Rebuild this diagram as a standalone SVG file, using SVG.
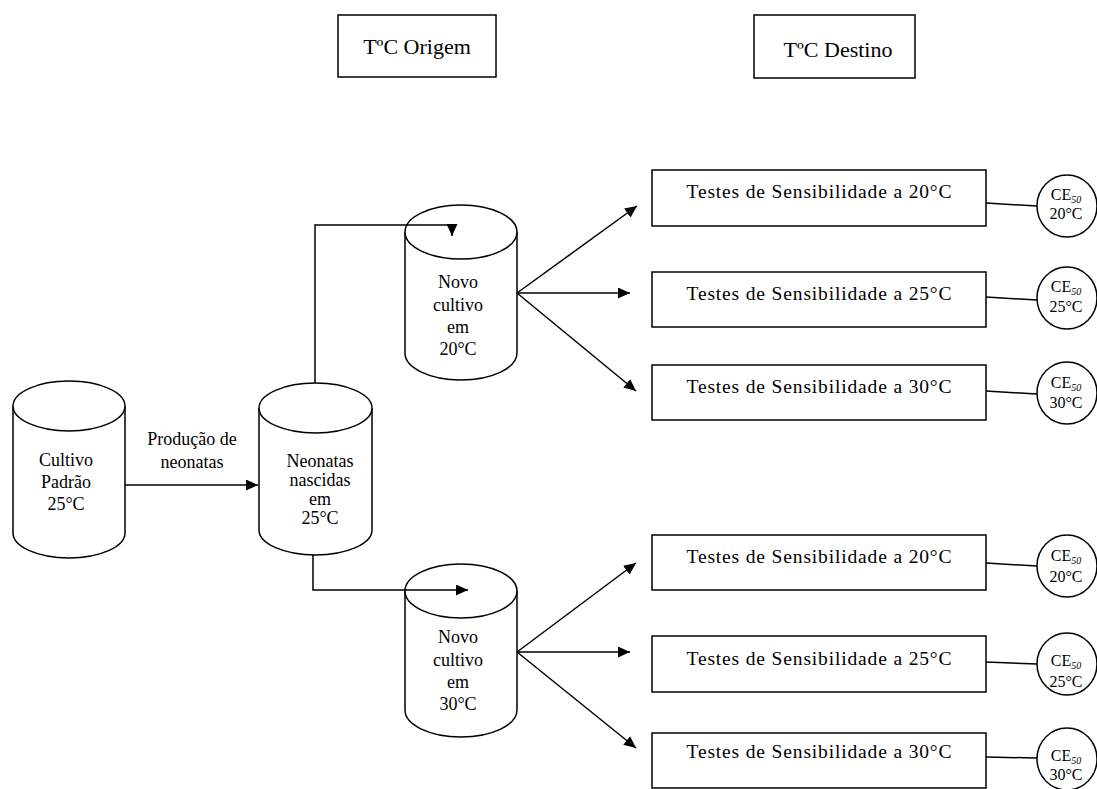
<svg xmlns="http://www.w3.org/2000/svg" width="1097" height="789" viewBox="0 0 1097 789">
<style>
  .shape { fill: #fff; stroke: #000; stroke-width: 1.5; }
  .line { fill: none; stroke: #000; stroke-width: 1.5; }
  .t { font-family: "Liberation Serif", "Times New Roman", serif; fill: #000; text-anchor: middle; }
  .lbl { font-size: 18px; }
  .hdr { font-size: 22px; }
  .test { font-size: 19.5px; }
  .ce { font-size: 16px; }
  .sub { font-size: 10px; font-style: italic; }
</style>
<defs>
  <marker id="arrow" viewBox="0 0 12 11" refX="12" refY="5.5" markerWidth="12" markerHeight="11" markerUnits="userSpaceOnUse" orient="auto">
    <path d="M0,0 L12,5.5 L0,11 Z" fill="#000"/>
  </marker>
</defs>
<rect width="1097" height="789" fill="#fff"/>

<!-- column headers -->
<g id="hdr-origem">
  <rect class="shape" x="338" y="15" width="158" height="62"/>
  <text class="t hdr" x="417" y="54">TºC Origem</text>
</g>
<g id="hdr-destino">
  <rect class="shape" x="754" y="15" width="161" height="63"/>
  <text class="t hdr" x="838" y="57">TºC Destino</text>
</g>

<!-- cylinders -->
<g id="cultivo-padrao">
  <path class="shape" d="M13,406 L13,533 A56,25 0 0 0 125,533 L125,406"/>
  <ellipse class="shape" cx="69" cy="406" rx="56" ry="25"/>
  <text class="t lbl" x="66" y="466">Cultivo</text>
  <text class="t lbl" x="66" y="488">Padrão</text>
  <text class="t lbl" x="66" y="510">25°C</text>
</g>
<g id="neonatas">
  <path class="shape" d="M259,408 L259,530 A56.5,25 0 0 0 372,530 L372,408"/>
  <ellipse class="shape" cx="315.5" cy="408" rx="56.5" ry="25"/>
  <text class="t lbl" x="320" y="467">Neonatas</text>
  <text class="t lbl" x="320" y="486">nascidas</text>
  <text class="t lbl" x="320" y="505">em</text>
  <text class="t lbl" x="320" y="524">25°C</text>
</g>
<g id="novo-20">
  <path class="shape" d="M405,232 L405,353 A56,27 0 0 0 517,353 L517,232"/>
  <ellipse class="shape" cx="461" cy="232" rx="56" ry="27"/>
  <text class="t lbl" x="458" y="288">Novo</text>
  <text class="t lbl" x="458" y="311">cultivo</text>
  <text class="t lbl" x="458" y="333">em</text>
  <text class="t lbl" x="458" y="355">20°C</text>
</g>
<g id="novo-30">
  <path class="shape" d="M405,591 L405,710 A56,27 0 0 0 517,710 L517,591"/>
  <ellipse class="shape" cx="461" cy="591" rx="56" ry="27"/>
  <text class="t lbl" x="458" y="643">Novo</text>
  <text class="t lbl" x="458" y="666">cultivo</text>
  <text class="t lbl" x="458" y="688">em</text>
  <text class="t lbl" x="458" y="710">30°C</text>
</g>

<!-- sensitivity tests -->
<g id="teste-20-a">
  <rect class="shape" x="652" y="170" width="334" height="56"/>
  <text class="t test" x="819" y="198" textLength="265">Testes de Sensibilidade a 20°C</text>
</g>
<g id="teste-25-a">
  <rect class="shape" x="652" y="272" width="334" height="55"/>
  <text class="t test" x="819" y="300" textLength="265">Testes de Sensibilidade a 25°C</text>
</g>
<g id="teste-30-a">
  <rect class="shape" x="652" y="365" width="334" height="55"/>
  <text class="t test" x="819" y="393" textLength="265">Testes de Sensibilidade a 30°C</text>
</g>
<g id="teste-20-b">
  <rect class="shape" x="652" y="535" width="334" height="55"/>
  <text class="t test" x="819" y="563" textLength="265">Testes de Sensibilidade a 20°C</text>
</g>
<g id="teste-25-b">
  <rect class="shape" x="652" y="636" width="334" height="56"/>
  <text class="t test" x="819" y="665" textLength="265">Testes de Sensibilidade a 25°C</text>
</g>
<g id="teste-30-b">
  <rect class="shape" x="652" y="733" width="334" height="55"/>
  <text class="t test" x="819" y="758" textLength="265">Testes de Sensibilidade a 30°C</text>
</g>

<!-- CE50 results -->
<g id="ce-20-a">
  <ellipse class="shape" cx="1067" cy="206" rx="30" ry="31"/>
  <text class="t ce" x="1066" y="200">CE<tspan class="sub" dy="3">50</tspan></text>
  <text class="t ce" x="1066" y="219">20°C</text>
</g>
<g id="ce-25-a">
  <ellipse class="shape" cx="1067" cy="298" rx="30" ry="31"/>
  <text class="t ce" x="1066" y="292">CE<tspan class="sub" dy="3">50</tspan></text>
  <text class="t ce" x="1066" y="312">25°C</text>
</g>
<g id="ce-30-a">
  <ellipse class="shape" cx="1067" cy="393" rx="30" ry="31"/>
  <text class="t ce" x="1066" y="388">CE<tspan class="sub" dy="3">50</tspan></text>
  <text class="t ce" x="1066" y="408">30°C</text>
</g>
<g id="ce-20-b">
  <ellipse class="shape" cx="1067" cy="566" rx="30" ry="31"/>
  <text class="t ce" x="1066" y="561">CE<tspan class="sub" dy="3">50</tspan></text>
  <text class="t ce" x="1066" y="582">20°C</text>
</g>
<g id="ce-25-b">
  <ellipse class="shape" cx="1067" cy="664" rx="30" ry="31"/>
  <text class="t ce" x="1066" y="666">CE<tspan class="sub" dy="3">50</tspan></text>
  <text class="t ce" x="1066" y="687">25°C</text>
</g>
<g id="ce-30-b">
  <ellipse class="shape" cx="1067" cy="759" rx="30" ry="31"/>
  <text class="t ce" x="1066" y="761">CE<tspan class="sub" dy="3">50</tspan></text>
  <text class="t ce" x="1066" y="780">30°C</text>
</g>

<!-- connectors, drawn last so their heads sit over the cylinder tops -->
<g id="connectors">
  <line class="line" x1="125" y1="485" x2="258" y2="485" marker-end="url(#arrow)"/>
  <polyline class="line" points="315,383 315,225 452,225 452,236" marker-end="url(#arrow)"/>
  <polyline class="line" points="313,555 313,590 468,590" marker-end="url(#arrow)"/>
  <line class="line" x1="517" y1="293" x2="637" y2="206" marker-end="url(#arrow)"/>
  <line class="line" x1="517" y1="293" x2="630" y2="293" marker-end="url(#arrow)"/>
  <line class="line" x1="517" y1="293" x2="636" y2="391" marker-end="url(#arrow)"/>
  <line class="line" x1="517" y1="652" x2="636" y2="563" marker-end="url(#arrow)"/>
  <line class="line" x1="517" y1="652" x2="630" y2="652" marker-end="url(#arrow)"/>
  <line class="line" x1="517" y1="652" x2="636" y2="748" marker-end="url(#arrow)"/>
  <line class="line" x1="986" y1="203" x2="1037" y2="206"/>
  <line class="line" x1="986" y1="297" x2="1037" y2="300"/>
  <line class="line" x1="986" y1="391" x2="1037" y2="394"/>
  <line class="line" x1="986" y1="563" x2="1037" y2="566"/>
  <line class="line" x1="986" y1="662" x2="1037" y2="664"/>
  <line class="line" x1="986" y1="757" x2="1037" y2="758"/>
</g>
<text class="t lbl" x="192" y="445">Produção de</text>
<text class="t lbl" x="192" y="468">neonatas</text>
</svg>
